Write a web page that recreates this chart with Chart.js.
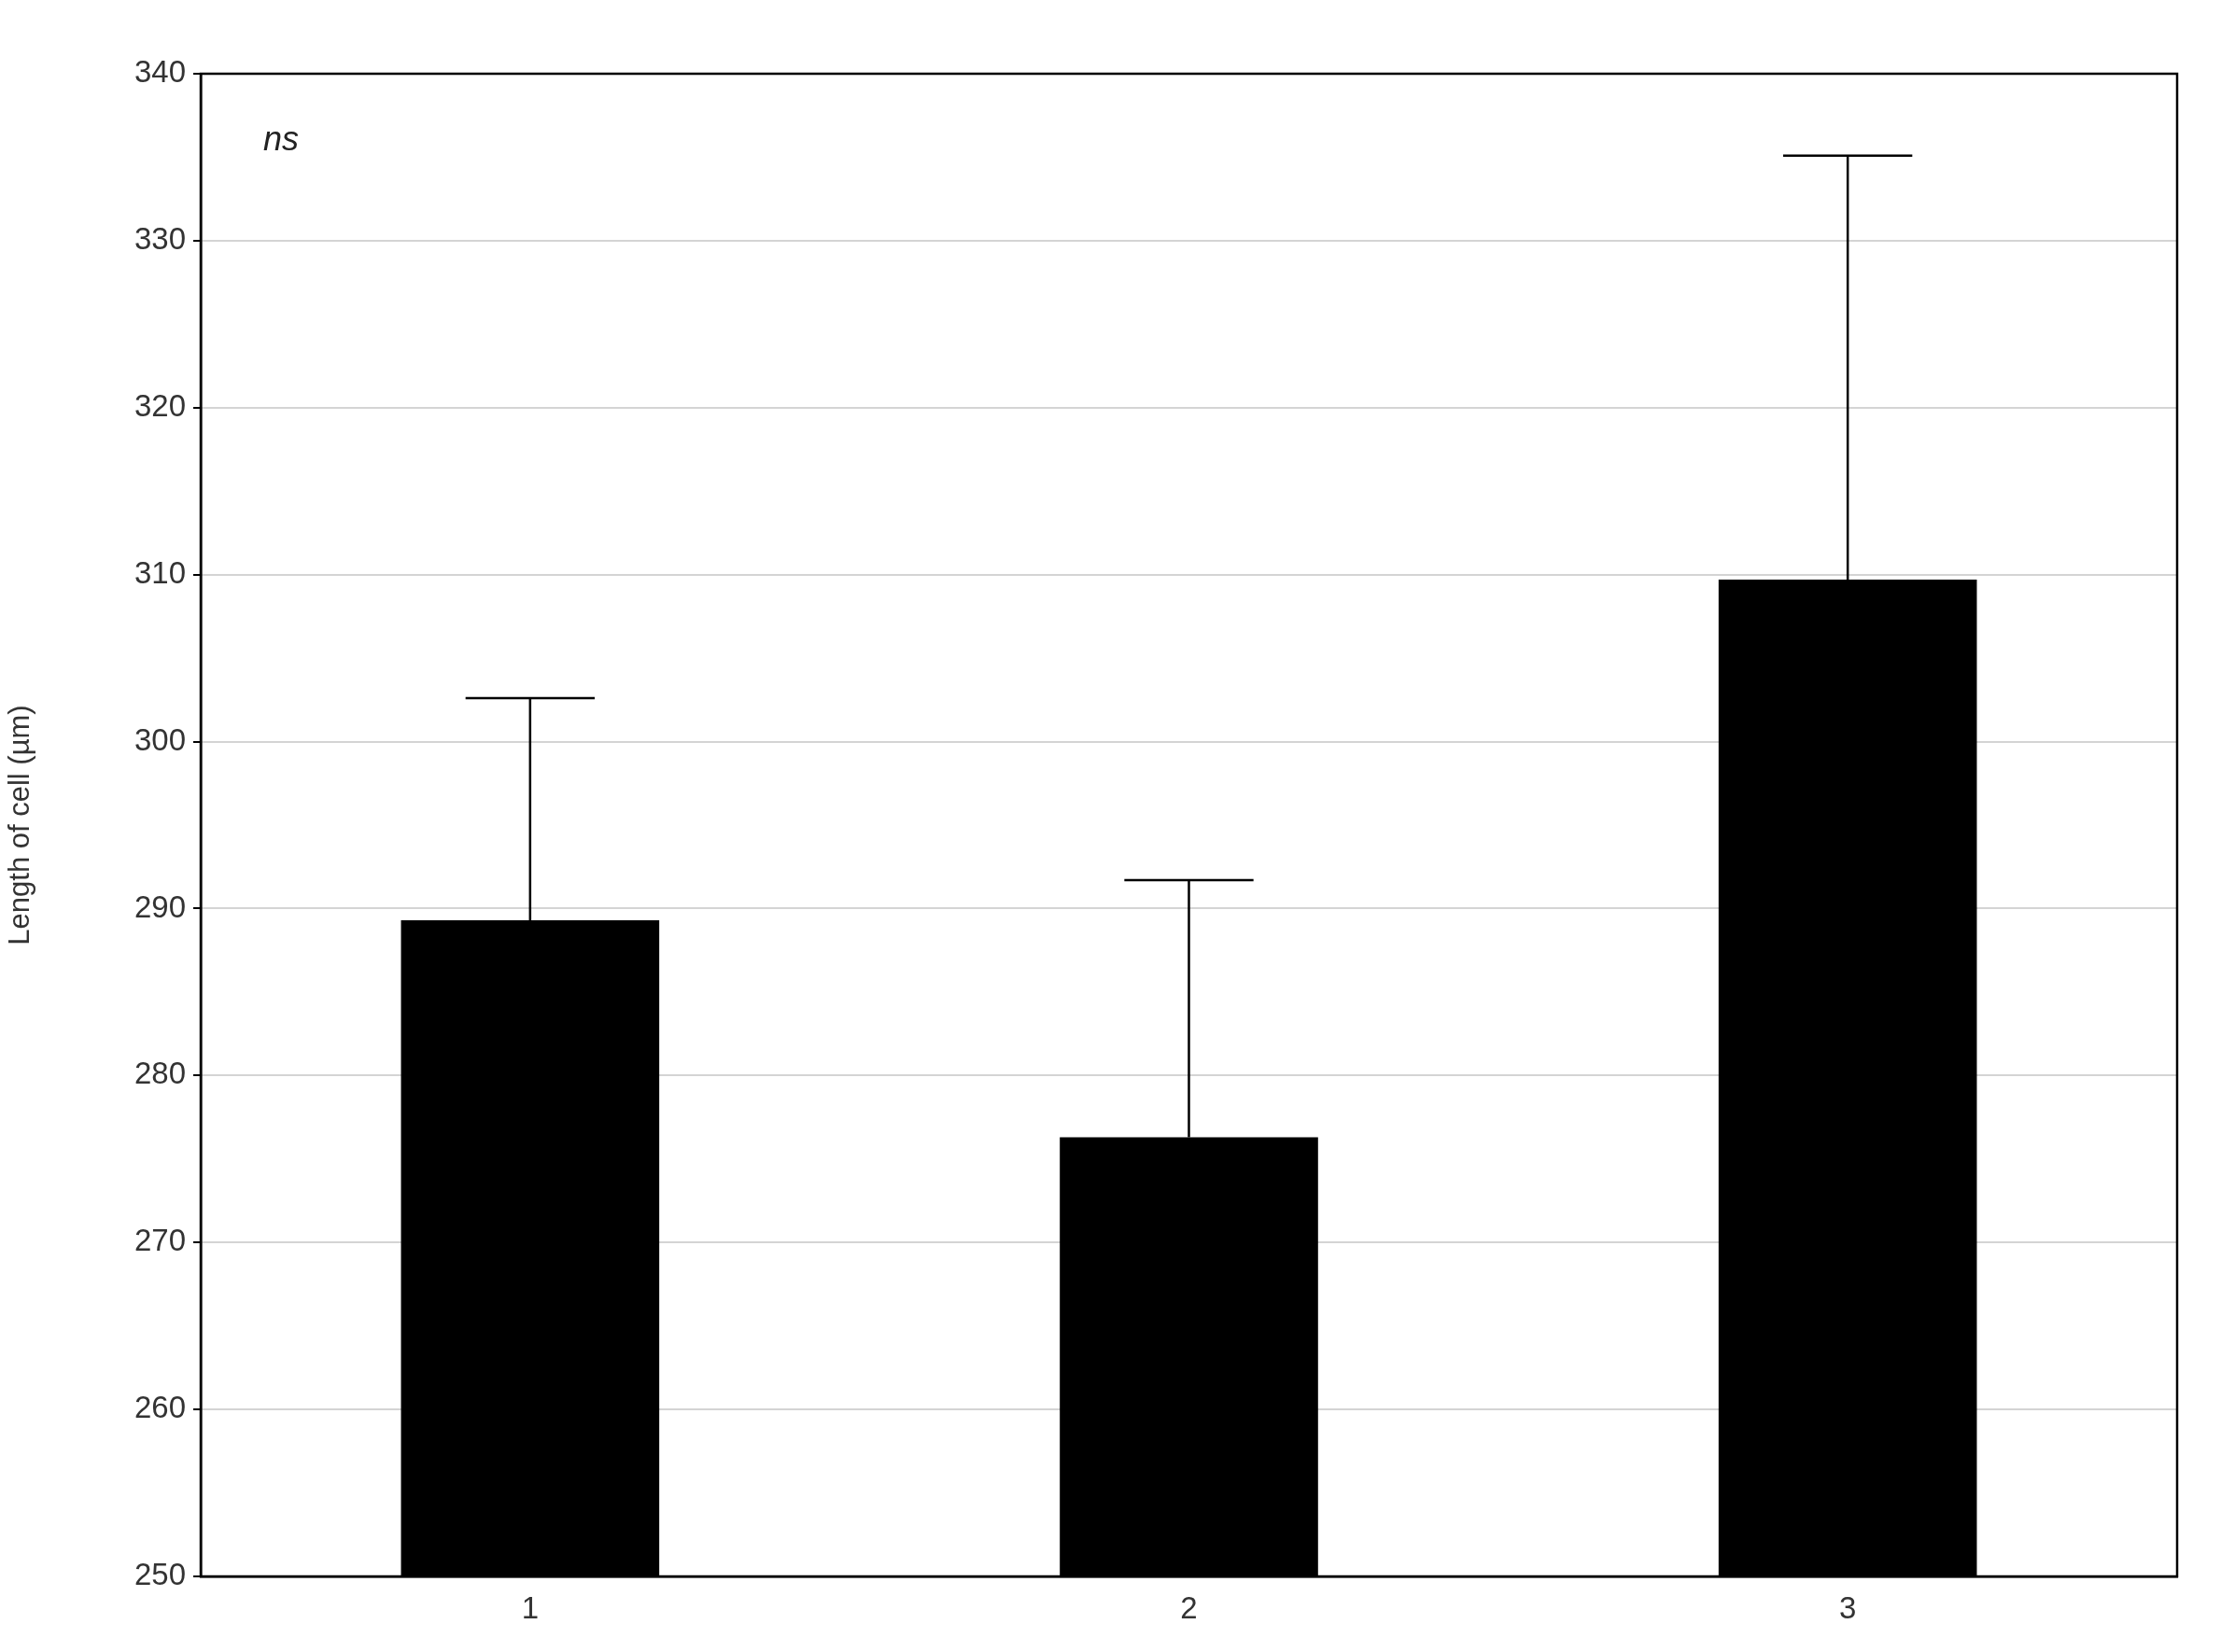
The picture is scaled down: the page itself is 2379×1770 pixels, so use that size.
<!DOCTYPE html>
<html><head><meta charset="utf-8">
<script src="https://cdn.jsdelivr.net/npm/chart.js@4"></script>
<style>html,body{margin:0;padding:0;background:#fff}#w{width:2379px;height:1770px}</style>
</head><body><div id="w"><canvas id="c"></canvas></div>
<script>
const categories = ["1","2","3"];
const means = [289.3, 276.3, 309.7];
const upperErr = [302.6, 291.7, 335.1];
const yTicks = [250,260,270,280,290,300,310,320,330,340];

const errPlugin = {
  id:'err',
  afterDatasetsDraw(chart){
    const ctx=chart.ctx, x=chart.scales.x, y=chart.scales.y;
    const meta=chart.getDatasetMeta(0);
    ctx.save(); ctx.strokeStyle='#000'; ctx.lineWidth=2.5;
    meta.data.forEach((bar,i)=>{
      const cx=bar.x, half=bar.width/4;
      const yt=y.getPixelForValue(upperErr[i]), yb=y.getPixelForValue(means[i]);
      ctx.beginPath(); ctx.moveTo(cx,yb); ctx.lineTo(cx,yt);
      ctx.moveTo(cx-half,yt); ctx.lineTo(cx+half,yt); ctx.stroke();
    });
    const a=chart.chartArea;
    ctx.fillStyle='#222'; ctx.font='italic 36px "Liberation Sans", Arial';
    ctx.textBaseline='middle'; ctx.fillText('ns', a.left+67, a.top+72);
    ctx.restore();
  }
};

new Chart(document.getElementById('c'),{
  type:'bar',
  data:{labels:categories,datasets:[{data:means,backgroundColor:'#000',borderWidth:0,categoryPercentage:1,barPercentage:0.392,base:250}]},
  options:{
    responsive:true, maintainAspectRatio:false, devicePixelRatio:1, animation:false,
    layout:{padding:{top:79,right:47,left:0,bottom:0}},
    plugins:{legend:{display:false},tooltip:{enabled:false}},
    scales:{
      x:{grid:{display:false,drawTicks:true,tickLength:8},border:{color:'#000',width:2.5},
         ticks:{color:'#333',font:{size:33,family:'"Liberation Sans", Arial'},padding:8},
         afterFit(s){s.height=81;}},
      y:{min:250,max:340,afterBuildTicks(s){s.ticks=yTicks.map(v=>({value:v}));},
         grid:{color:'#d4d4d4',lineWidth:2,tickLength:8,tickColor:'#000'},border:{color:'#000',width:2.5},
         ticks:{color:'#333',font:{size:33,family:'"Liberation Sans", Arial'},padding:8},
         title:{display:true,text:'Length of cell (µm)',color:'#333',font:{size:31,family:'"Liberation Sans", Arial'},padding:4},
         afterFit(s){s.width=215;}}
    }
  },
  plugins:[errPlugin,{id:'frame',afterDraw(chart){const a=chart.chartArea,c=chart.ctx;c.save();c.strokeStyle='#000';c.lineWidth=2.5;c.strokeRect(a.left,a.top,a.right-a.left,a.bottom-a.top);c.restore();}}]
});
</script></body></html>
